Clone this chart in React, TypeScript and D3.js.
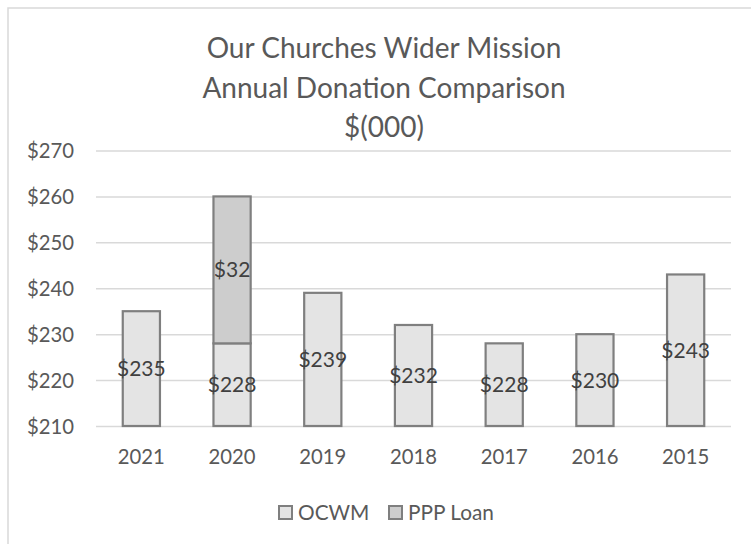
import { useRef, useEffect } from "react";
import * as d3 from "d3";

const years = ["2021", "2020", "2019", "2018", "2017", "2016", "2015"];
const ocwm = [235, 228, 239, 232, 228, 230, 243];
const pppLoan = [0, 32, 0, 0, 0, 0, 0];
const seriesNames = ["OCWM", "PPP Loan"];
const seriesFill = ["#e4e4e4", "#cdcdcd"];
const titleLines = ["Our Churches Wider Mission", "Annual Donation Comparison", "$(000)"];
const yTicks = [210, 220, 230, 240, 250, 260, 270];

const W = 751;
const H = 544;
const FONT = "Lato, 'Open Sans', sans-serif";

const App = () => {
  const svgRef = useRef<SVGSVGElement | null>(null);

  useEffect(() => {
    if (!svgRef.current) return;
    const svg = d3.select(svgRef.current);
    svg.selectAll("*").remove();

    const x = d3
      .scaleBand<string>()
      .domain(years)
      .range([96, 731])
      .paddingInner(0.59)
      .paddingOuter(0.295);
    const y = d3.scaleLinear().domain([210, 270]).range([426, 150.5]);

    // chart area border (runs off right/bottom of the picture)
    svg
      .append("rect")
      .attr("x", 8)
      .attr("y", 8)
      .attr("width", 780)
      .attr("height", 580)
      .attr("fill", "#fff")
      .attr("stroke", "#d9d9d9")
      .attr("stroke-width", 1.5);

    // title
    svg
      .append("g")
      .selectAll("text")
      .data(titleLines)
      .join("text")
      .attr("x", 384)
      .attr("y", (_, i) => 58 + i * 39.5)
      .attr("text-anchor", "middle")
      .attr("font-family", FONT)
      .attr("font-size", 28)
      .attr("fill", "#595959")
      .text((d) => d);

    // y axis: gridlines + labels
    const yAxis = svg
      .append("g")
      .call(
        d3
          .axisLeft(y)
          .tickValues(yTicks)
          .tickSize(-(731 - 96))
          .tickPadding(22)
          .tickFormat((d) => `$${d}`)
      )
      .attr("transform", "translate(96,0)");
    yAxis.select(".domain").remove();
    yAxis
      .selectAll(".tick line")
      .attr("stroke", "#d9d9d9")
      .attr("stroke-width", 1.5)
      .attr("transform", null);
    yAxis
      .selectAll(".tick text")
      .attr("font-family", FONT)
      .attr("font-size", 20.3)
      .attr("fill", "#595959")
      .attr("dy", "0.35em");

    // x axis labels
    const xAxis = svg
      .append("g")
      .attr("transform", "translate(0,426)")
      .call(d3.axisBottom(x).tickSize(0).tickPadding(24));
    xAxis.select(".domain").remove();
    xAxis
      .selectAll(".tick text")
      .attr("font-family", FONT)
      .attr("font-size", 20.3)
      .attr("fill", "#595959");

    // stacked bars
    const table = years.map((yr, i) => ({
      year: yr,
      OCWM: ocwm[i],
      "PPP Loan": pppLoan[i],
    }));
    const stacked = d3.stack<any>().keys(seriesNames)(table);
    const base = y.domain()[0];

    stacked.forEach((layer, li) => {
      const g = svg.append("g");
      const segs = layer
        .map((s) => ({ year: s.data.year, lo: li === 0 ? base : s[0], hi: s[1], v: s.data[layer.key] }))
        .filter((s) => s.v > 0);
      g.selectAll("rect")
        .data(segs)
        .join("rect")
        .attr("x", (d) => x(d.year)!)
        .attr("y", (d) => y(d.hi))
        .attr("width", x.bandwidth())
        .attr("height", (d) => y(d.lo) - y(d.hi))
        .attr("fill", seriesFill[li])
        .attr("stroke", "#7f7f7f")
        .attr("stroke-width", 2.2);
      g.selectAll("text")
        .data(segs)
        .join("text")
        .attr("x", (d) => x(d.year)! + x.bandwidth() / 2)
        .attr("y", (d) => (y(d.lo) + y(d.hi)) / 2)
        .attr("dy", "0.36em")
        .attr("text-anchor", "middle")
        .attr("font-family", FONT)
        .attr("font-size", 21)
        .attr("fill", "#404040")
        .text((d) => `$${d.v}`);
    });

    // legend
    const legendX = [278, 388];
    const lg = svg
      .append("g")
      .selectAll("g")
      .data(seriesNames)
      .join("g")
      .attr("transform", (_, i) => `translate(${legendX[i]},505)`);
    lg.append("rect")
      .attr("x", 1)
      .attr("y", 1)
      .attr("width", 13)
      .attr("height", 13)
      .attr("fill", (_, i) => seriesFill[i])
      .attr("stroke", "#7f7f7f")
      .attr("stroke-width", 2);
    lg.append("text")
      .attr("x", 20)
      .attr("y", 15)
      .attr("font-family", FONT)
      .attr("font-size", 20.8)
      .attr("fill", "#595959")
      .text((d) => d);
  }, []);

  return (
    <svg
      ref={svgRef}
      width={W}
      height={H}
      style={{ position: "absolute", left: 0, top: 0, background: "#fff" }}
    />
  );
};

export default App;
